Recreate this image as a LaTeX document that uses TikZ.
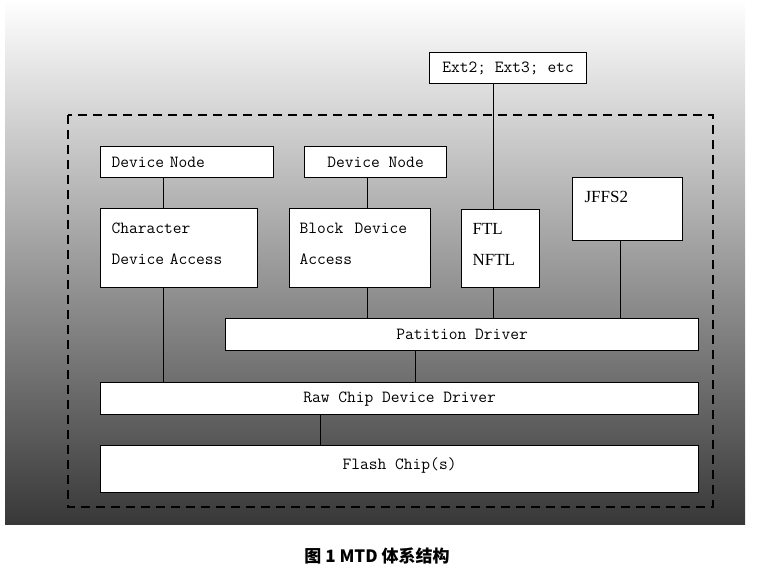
\documentclass[tikz,border=0pt]{standalone}
\usepackage{fontspec}
\newfontfamily\serffnt{Liberation Serif}
\newfontfamily\cjk{Noto Sans CJK SC}
\usetikzlibrary{positioning}

\begin{document}
\begin{tikzpicture}[x=1pt,y=-1pt,
        box/.style={draw,line width=1.2pt,fill=white,anchor=north west,inner sep=0pt,
          font=\ttfamily\fontsize{17}{31}\selectfont},
        leftbox/.style={box,align=left},
        serifbox/.style={leftbox,font=\serffnt\fontsize{17}{31}\selectfont},
        link/.style={line width=1pt}]
        \useasboundingbox (0,0) rectangle (765,569);
        \shade [top color=white,bottom color=black!78] (5,0) rectangle (745,524);
        \draw [line width=2pt,dash pattern=on 9pt off 6pt] (68,115) rectangle (713,507);

        \node [box,minimum width=157pt,minimum height=31pt] at (429,52) (ext){Ext2; Ext3; etc};
        \node [leftbox,inner xsep=11pt,text width=151pt,minimum height=31pt] at (100,146) (devA){Device Node};
        \node [box,minimum width=142pt,minimum height=31pt] at (304,146) (devB){Device Node};
        \node [leftbox,inner xsep=11pt,text width=135pt,text height=25pt,text depth=54pt] at (100,208) (chr){Character\\Device Access};
        \node [leftbox,inner xsep=10pt,text width=121pt,text height=25pt,text depth=54pt] at (289,208) (blk){Block~~Device\\Access};
        \node [serifbox,inner xsep=11pt,text width=56pt,text height=24.5pt,text depth=53.5pt] at (461,209) (ftl){FTL\\NFTL};
        \node [serifbox,inner xsep=12pt,text width=86pt,text height=25pt,text depth=38pt] at (572,177) (jffs){JFFS2};
        \node [box,minimum width=473pt,minimum height=32pt] at (225,318) (part){Patition Driver};
        \node [box,minimum width=598pt,minimum height=32pt] at (100,382) (raw){Raw Chip Device Driver};
        \node [box,minimum width=598pt,text height=24pt,text depth=23pt] at (100,445) (flash){Flash Chip(s)};

        \coordinate (xchr) at (163,0);
        \coordinate (xblk) at (367,0);
        \coordinate (xftl) at (493,0);
        \coordinate (xjffs) at (620,0);
        \coordinate (xpart) at (415,0);
        \coordinate (xraw) at (320,0);

        \draw [link] (devA.south -| xchr) -- (chr.north -| xchr);
        \draw [link] (devB.south -| xblk) -- (blk.north -| xblk);
        \draw [link] (ext.south -| xftl) -- (ftl.north -| xftl);
        \draw [link] (chr.south -| xchr) -- (raw.north -| xchr);
        \draw [link] (blk.south -| xblk) -- (part.north -| xblk);
        \draw [link] (ftl.south -| xftl) -- (part.north -| xftl);
        \draw [link] (jffs.south -| xjffs) -- (part.north -| xjffs);
        \draw [link] (part.south -| xpart) -- (raw.north -| xpart);
        \draw [link] (raw.south -| xraw) -- (flash.north -| xraw);

        \node [font=\cjk\bfseries\fontsize{17}{20}\selectfont] at (377,556) (cap){图 1 MTD 体系结构};
      \end{tikzpicture}
\end{document}
